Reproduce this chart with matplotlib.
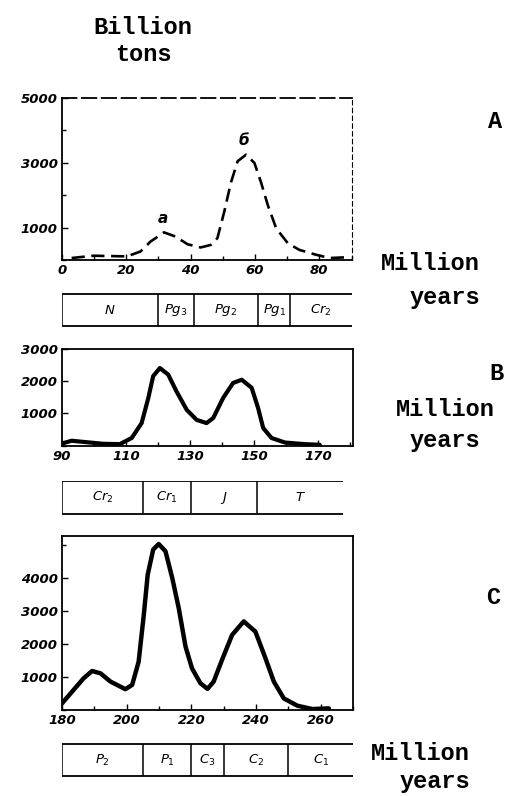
import numpy as np
import matplotlib.pyplot as plt

# panel A: Cenozoic (dashed curve)
a_age = [3.0, 9.8, 20.2, 24.4, 27.5, 31.7, 35.3, 39.0, 43.1, 46.3, 48.3, 50.4, 52.5, 54.6, 57.2,
         59.8, 61.9, 64.0, 66.6, 70.2, 73.8, 79.0, 83.2, 87.9]
a_mass = [70, 140, 120, 270, 575, 860, 730, 495, 395, 475, 680, 1480, 2390, 3050, 3250,
          3000, 2390, 1690, 980, 525, 320, 170, 70, 90]

# panel B: Mesozoic
b_age = [90.4, 93.0, 97.7, 102.9, 108.1, 111.8, 114.9, 117.0, 118.5, 120.6, 123.2, 125.8, 129.0, 132.1,
         135.2, 137.3, 140.4, 143.5, 146.2, 149.3, 151.3, 152.9, 155.5, 159.7, 165.9, 170.6]
b_mass = [80, 155, 110, 60, 50, 240, 700, 1480, 2150, 2400, 2200, 1680, 1110, 800,
          700, 860, 1480, 1940, 2040, 1790, 1170, 550, 240, 100, 50, 30]

# panel C: Late Paleozoic
c_age = [180.0, 183.6, 186.7, 189.3, 191.9, 195.0, 199.6, 201.7, 203.7, 205.3, 206.5, 208.2, 209.9, 212.0,
         214.1, 216.1, 218.2, 220.2, 222.8, 225.0, 226.9, 229.5, 232.6, 236.2, 239.8, 242.9, 245.5,
         248.6, 252.8, 257.4, 262.5]
c_mass = [200, 610, 960, 1180, 1110, 860, 630, 760, 1460, 2880, 4090, 4850, 5020, 4800,
          3990, 3080, 1920, 1260, 810, 640, 860, 1520, 2270, 2680, 2370, 1570, 860,
          350, 130, 30, 50]

# stratigraphic scales below each panel
a_bounds = [0, 30, 41, 61, 71, 90]
a_units = ['$N$', '$Pg_3$', '$Pg_2$', '$Pg_1$', '$Cr_2$']
b_bounds = [90, 115.3, 130.3, 151, 178]
b_units = ['$Cr_2$', '$Cr_1$', '$J$', '$T$']
c_bounds = [180, 205.2, 220, 230, 250, 270]
c_units = ['$P_2$', '$P_1$', '$C_3$', '$C_2$', '$C_1$']

a_xticks = [0, 20, 40, 60, 80]
b_xticks = [90, 110, 130, 150, 170]
c_xticks = [180, 200, 220, 240, 260]
a_yticks = [1000, 3000, 5000]
b_yticks = [1000, 2000, 3000]
c_yticks = [1000, 2000, 3000, 4000]

mono = 'Liberation Mono'
tickfont = dict(family='DejaVu Sans', style='italic', weight='bold', size=9.5)

fig = plt.figure(figsize=(5.08, 7.96), dpi=100)
plt.rcParams['mathtext.fontset'] = 'dejavusans'


def curve_axes(rect, xlim, ylim, xticks, xminor, yticks, yminor):
    ax = fig.add_axes(rect)
    ax.set_xlim(*xlim)
    ax.set_ylim(*ylim)
    ax.set_xticks(xticks)
    ax.set_xticks(xminor, minor=True)
    ax.set_yticks(yticks)
    ax.set_yticks(yminor, minor=True)
    ax.set_xticklabels([str(t) for t in xticks], fontdict=tickfont)
    ax.set_yticklabels([str(t) for t in yticks], fontdict=tickfont)
    ax.tick_params(which='both', direction='in', length=4, width=1, pad=3)
    ax.tick_params(which='minor', length=3)
    for s in ax.spines.values():
        s.set_linewidth(1.3)
    return ax


def scale_axes(rect, xlim, bounds, units):
    ax = fig.add_axes(rect)
    ax.set_xlim(*xlim)
    ax.set_ylim(0, 1)
    ax.axis('off')
    ax.hlines([0.02, 0.98], bounds[0], bounds[-1], color='black', lw=1.3)
    ax.vlines(bounds[:-1], 0.02, 0.98, color='black', lw=1.1)
    for i, u in enumerate(units):
        ax.text((bounds[i] + bounds[i + 1]) / 2, 0.5, u, ha='center', va='center',
                fontsize=9.5, style='italic', weight='bold')
    return ax


# A
ax1 = curve_axes([0.122, 0.673, 0.570, 0.204], (0, 90), (0, 5000),
                 a_xticks, range(0, 91, 10), a_yticks, range(0, 5001, 1000))
ax1.spines['top'].set_linestyle((0, (8, 3)))
ax1.spines['right'].set_linestyle((0, (4, 3)))
ax1.spines['right'].set_linewidth(0.8)
ax1.plot(a_age, a_mass, color='black', lw=1.9, linestyle=(0, (5, 2.5)),
         dash_joinstyle='round')
ax1.text(31.5, 1150, 'a', fontsize=11, style='italic', weight='bold', ha='center')
ax1.text(56.5, 3550, 'б', fontsize=11, style='italic', weight='bold', ha='center')
scale_axes([0.122, 0.589, 0.570, 0.043], (0, 90), a_bounds, a_units)

# B
ax2 = curve_axes([0.122, 0.440, 0.573, 0.122], (90, 181), (0, 3000),
                 b_xticks, range(90, 181, 10), b_yticks, range(0, 3001, 1000))
ax2.plot(b_age, b_mass, color='black', lw=3, solid_capstyle='round',
         solid_joinstyle='round')
scale_axes([0.122, 0.353, 0.573, 0.043], (90, 181), b_bounds, b_units)

# C
ax3 = curve_axes([0.122, 0.108, 0.573, 0.219], (180, 270), (0, 5270),
                 c_xticks, range(180, 271, 10), c_yticks, range(0, 5001, 1000))
ax3.plot(c_age, c_mass, color='black', lw=3.2, solid_capstyle='round',
         solid_joinstyle='round')
scale_axes([0.122, 0.024, 0.573, 0.042], (180, 270), c_bounds, c_units)

# titles and side labels
txt = dict(family=mono, fontsize=17, weight='bold')
fig.text(0.282, 0.965, 'Billion', ha='center', va='center', **txt)
fig.text(0.282, 0.931, 'tons', ha='center', va='center', **txt)
fig.text(0.975, 0.847, 'A', ha='center', va='center', **txt)
fig.text(0.945, 0.669, 'Million', ha='right', va='center', **txt)
fig.text(0.945, 0.626, 'years', ha='right', va='center', **txt)
fig.text(0.978, 0.531, 'B', ha='center', va='center', **txt)
fig.text(0.876, 0.485, 'Million', ha='center', va='center', **txt)
fig.text(0.876, 0.447, 'years', ha='center', va='center', **txt)
fig.text(0.970, 0.250, 'C', ha='center', va='center', **txt)
fig.text(0.925, 0.054, 'Million', ha='right', va='center', **txt)
fig.text(0.925, 0.018, 'years', ha='right', va='center', **txt)

fig.savefig('out.png', dpi=100)
